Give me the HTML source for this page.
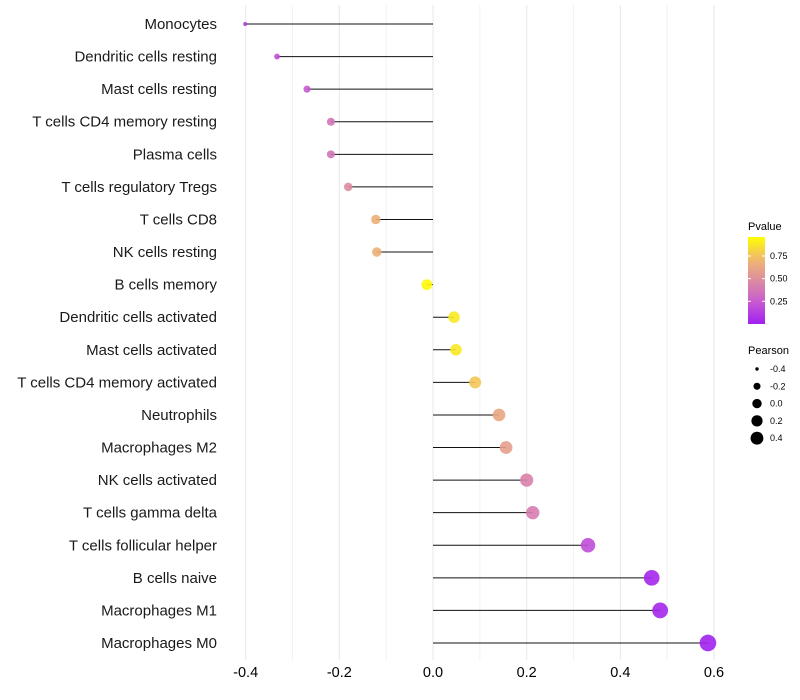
<!DOCTYPE html>
<html><head><meta charset="utf-8"><style>
body{margin:0;background:#fff;font-family:"Liberation Sans",sans-serif}
</style></head><body>
<svg id="chart" width="800" height="700" style="display:block">
<g id="grid"></g>
<g id="lines"></g>
<g id="dots"></g>
<g id="ylab"></g>
<g id="xlab"></g>
<g id="legend"></g>
</svg>
<script>
const categories=["Monocytes","Dendritic cells resting","Mast cells resting","T cells CD4 memory resting","Plasma cells","T cells regulatory  Tregs","T cells CD8","NK cells resting","B cells memory","Dendritic cells activated","Mast cells activated","T cells CD4 memory activated","Neutrophils","Macrophages M2","NK cells activated","T cells gamma delta","T cells follicular helper","B cells naive","Macrophages M1","Macrophages M0"];
const pearson=[-0.401,-0.333,-0.269,-0.218,-0.218,-0.181,-0.122,-0.120,-0.013,0.045,0.049,0.090,0.141,0.156,0.200,0.213,0.331,0.467,0.485,0.587];
const pvalue=[0.10,0.20,0.25,0.38,0.38,0.50,0.70,0.70,0.98,0.92,0.92,0.80,0.65,0.60,0.45,0.42,0.20,0.03,0.03,0.01];
const xTicks=[-0.4,-0.2,0.0,0.2,0.4,0.6];
const xTickLabels=["-0.4","-0.2","0.0","0.2","0.4","0.6"];
const xMinor=[-0.3,-0.1,0.1,0.3,0.5];
const legendP=[0.25,0.5,0.75];
const legendSizes=[-0.4,-0.2,0.0,0.2,0.4];

const NS="http://www.w3.org/2000/svg";
const xs=v=>433+v*(714-433)/0.6;
const ys=i=>24+i*(643-24)/19;
const rs=v=>Math.sqrt(Math.max(1,4+66*(v+0.4)));
const stops=[[0,[160,32,240]],[0.25,[200,90,210]],[0.5,[220,140,160]],[0.75,[240,185,110]],[1,[255,255,0]]];
function col(p){for(let k=1;k<stops.length;k++){if(p<=stops[k][0]){const a=stops[k-1],b=stops[k],t=(p-a[0])/(b[0]-a[0]);return 'rgb('+a[1].map((c,j)=>Math.round(c+(b[1][j]-c)*t)).join(',')+')';}}return 'rgb(255,255,0)';}
function mk(tag,attrs,parent){const e=document.createElementNS(NS,tag);for(const k in attrs)e.setAttribute(k,attrs[k]);parent.appendChild(e);return e;}
const G=id=>document.getElementById(id);

xMinor.forEach(v=>{const l=mk('line',{x1:xs(v),x2:xs(v),y1:5,y2:660,stroke:'#f2f2f2','stroke-width':1},G('grid'));

});
xTicks.forEach((v,i)=>{const l=mk('line',{x1:xs(v),x2:xs(v),y1:5,y2:660,stroke:'#ebebeb','stroke-width':1.2},G('grid'));


const t=mk('text',{x:xs(v),y:677,'text-anchor':'middle','font-size':14.5,fill:'#000'},G('xlab'));t.textContent=xTickLabels[i];

});

categories.forEach((c,i)=>{const y=ys(i);
const l=mk('line',{x1:xs(0),x2:xs(pearson[i]),y1:y,y2:y,stroke:'#111','stroke-width':1},G('lines'));


const d=mk('circle',{cx:xs(pearson[i]),cy:y,r:rs(pearson[i]),fill:col(pvalue[i]),'fill-opacity':0.9},G('dots'));


const t=mk('text',{x:217,y:y+5,'text-anchor':'end','font-size':15,fill:'#1a1a1a'},G('ylab'));t.textContent=c;

});

const L=G('legend');
let t=mk('text',{x:748,y:230,'font-size':11},L);t.textContent='Pvalue';


const defs=mk('defs',{},L);const lg=mk('linearGradient',{id:'pg',x1:0,y1:1,x2:0,y2:0},defs);
for(let k=0;k<=10;k++){mk('stop',{offset:k/10,'stop-color':col(k/10)},lg);}
const bar=mk('rect',{x:748,y:237,width:17,height:87,fill:'url(#pg)'},L);


const pY=p=>323-(p-0.01)*(86/0.95);
legendP.forEach(p=>{const y=pY(p);mk('line',{x1:748,x2:751,y1:y,y2:y,stroke:'#fff'},L);mk('line',{x1:762,x2:765,y1:y,y2:y,stroke:'#fff'},L);
const tt=mk('text',{x:770,y:y+3,'font-size':9},L);tt.textContent=p.toFixed(2);

});
t=mk('text',{x:748,y:354,'font-size':11},L);t.textContent='Pearson';


legendSizes.forEach((v,i)=>{const y=369+i*17.3;
const c=mk('circle',{cx:757,cy:y,r:rs(v)*0.85,fill:'#000'},L);


const tt=mk('text',{x:770,y:y+3,'font-size':9},L);tt.textContent=v.toFixed(1);

});
</script>
</body></html>
